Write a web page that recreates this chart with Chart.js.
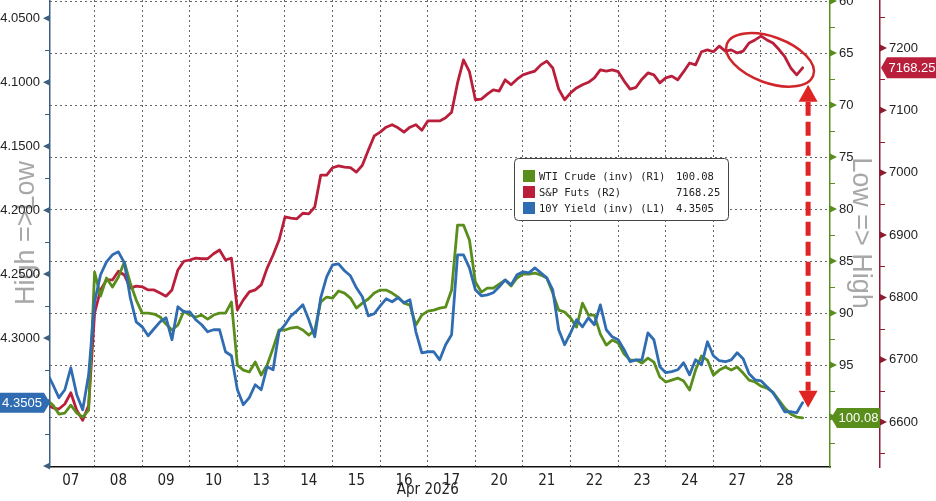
<!DOCTYPE html>
<html>
<head>
<meta charset="utf-8">
<script src="https://cdn.jsdelivr.net/npm/chart.js@4.4.1/dist/chart.umd.min.js"></script>
<style>
  html, body { margin: 0; padding: 0; background: #fff; }
</style>
</head>
<body>
<canvas id="myChart" width="936" height="501"></canvas>
<script>
// trading days on the x axis
var dayLabels = ['07', '08', '09', '10', '13', '14', '15', '16', '17', '20', '21', '22', '23', '24', '27', '28'];
var monthLabel = 'Apr 2026';
// intraday samples per trading day
var samplesPerDay = 8;

// WTI crude (R1, inverted)
var wtiCrude = [
  98.37, 98.85, 99.71, 99.61, 98.85, 99.61, 100.00, 99.33,
  86.06, 88.37, 86.63, 87.50, 86.54, 85.10, 87.12, 88.75,
  90.00, 90.00, 90.10, 90.38, 91.06, 91.63, 91.15, 89.81,
  90.19, 90.38, 90.19, 90.58, 90.19, 90.00, 90.00, 88.94,
  95.00, 95.48, 95.67, 94.71, 95.96, 95.00, 93.37, 91.63,
  91.63, 91.44, 91.35, 91.63, 92.12, 91.63, 88.94, 88.46,
  88.56, 87.88, 88.08, 88.56, 89.52, 89.04, 88.65, 88.08,
  87.79, 87.79, 88.08, 88.46, 89.04, 89.23, 91.15, 90.19,
  89.81, 89.71, 89.52, 89.42, 87.79, 81.54, 81.54, 82.98,
  87.02, 87.98, 87.60, 87.60, 87.21, 86.83, 87.40, 86.63,
  86.25, 86.25, 86.15, 86.35, 86.63, 88.08, 89.71, 89.90,
  90.48, 91.35, 89.04, 90.19, 90.19, 92.02, 93.08, 92.60,
  92.88, 93.94, 94.52, 94.52, 94.81, 94.33, 94.71, 96.15,
  96.63, 96.44, 96.25, 96.54, 97.40, 95.48, 94.13, 94.52,
  95.96, 95.48, 95.19, 95.48, 95.19, 95.77, 96.44, 96.63,
  97.02, 97.21, 97.60, 98.37, 99.13, 99.71, 100.00, 100.08
];

// S&P futures (R2)
var spFuts = [
  6627, 6623, 6621, 6629, 6647, 6619, 6603, 6627,
  6775, 6812, 6828, 6828, 6842, 6836, 6815, 6818,
  6817, 6812, 6812, 6807, 6802, 6812, 6844, 6858,
  6860, 6863, 6862, 6862, 6870, 6876, 6860, 6863,
  6780, 6796, 6809, 6812, 6820, 6847, 6868, 6892,
  6929, 6927, 6926, 6935, 6934, 6945, 6996, 6996,
  7008, 7011, 7009, 7008, 7001, 7012, 7036, 7059,
  7065, 7073, 7077, 7072, 7065, 7073, 7077, 7068,
  7083, 7083, 7083, 7088, 7097, 7144, 7181, 7162,
  7117, 7118, 7126, 7133, 7131, 7149, 7141, 7150,
  7157, 7160, 7163, 7173, 7179, 7168, 7134, 7117,
  7128, 7136, 7141, 7145, 7152, 7165, 7163, 7165,
  7162, 7147, 7134, 7137, 7150, 7160, 7157, 7144,
  7152, 7155, 7149, 7162, 7176, 7173, 7194, 7197,
  7194, 7203, 7195, 7197, 7192, 7195, 7208, 7213,
  7219, 7213, 7208, 7198, 7186, 7168, 7157, 7168.25
];

// 10Y yield (L1, inverted)
var yield10y = [
  4.3271, 4.3365, 4.3466, 4.3404, 4.3232, 4.3443, 4.3560, 4.3287,
  4.2716, 4.2505, 4.2404, 4.2349, 4.2326, 4.2412, 4.2685, 4.2873,
  4.2912, 4.2982, 4.2927, 4.2873, 4.2841, 4.3013, 4.2755, 4.2795,
  4.2795, 4.2857, 4.2896, 4.2951, 4.2935, 4.2935, 4.3107, 4.3138,
  4.3404, 4.3521, 4.3466, 4.3365, 4.3404, 4.3224, 4.3248, 4.2951,
  4.2896, 4.2826, 4.2787, 4.2740, 4.2857, 4.2990, 4.2685, 4.2521,
  4.2427, 4.2420, 4.2474, 4.2513, 4.2607, 4.2677, 4.2826, 4.2810,
  4.2748, 4.2693, 4.2716, 4.2685, 4.2724, 4.2701, 4.2951, 4.3115,
  4.3107, 4.3107, 4.3170, 4.3052, 4.2974, 4.2349, 4.2349, 4.2451,
  4.2623, 4.2670, 4.2662, 4.2646, 4.2599, 4.2545, 4.2584, 4.2505,
  4.2482, 4.2490, 4.2451, 4.2490, 4.2529, 4.2623, 4.2935, 4.3052,
  4.2959, 4.2857, 4.2912, 4.2841, 4.2896, 4.2740, 4.2935, 4.2990,
  4.3013, 4.3091, 4.3185, 4.3170, 4.3170, 4.2959, 4.3013, 4.3224,
  4.3271, 4.3263, 4.3248, 4.3193, 4.3287, 4.3170, 4.3209, 4.3029,
  4.3138, 4.3177, 4.3185, 4.3170, 4.3115, 4.3162, 4.3279, 4.3326,
  4.3334, 4.3380, 4.3427, 4.3498, 4.3576, 4.3576, 4.3584, 4.3505
];

// tick labels of the three value axes
var yieldTicks = [4.05, 4.10, 4.15, 4.20, 4.25, 4.30, 4.35, 4.40];
var crudeTicks = [60, 65, 70, 75, 80, 85, 90, 95, 100];
var spTicks = [6600, 6700, 6800, 6900, 7000, 7100, 7200];

var seriesNames = ['WTI Crude (inv) (R1)', 'S&P Futs (R2)', '10Y Yield (inv) (L1)'];
var lastValues = ['100.08', '7168.25', '4.3505'];

var GREEN = '#5a8e1c';
var RED = '#b91f3b';
var BLUE = '#2f6cb1';
var narrowFont = "'Liberation Sans Narrow', 'DejaVu Sans Condensed', sans-serif";

function toPoints(arr) {
    return arr.map(function (v, i) { return { x: i / samplesPerDay, y: v }; });
}

function setTicks(list) {
    return function (scale) {
        scale.ticks = list.map(function (v) { return { value: v }; });
    };
}

// fixed box sizes so the plot area lands where the original sits
function fixWidth(w) {
    return function (scale) {
        scale.width = w;
        scale.paddingTop = 0;
        scale.paddingBottom = 0;
    };
}

function drawFlag(ctx, tipX, cy, dir, w, h, text, color) {
    // dir = 1 points right (box on left), -1 points left (box on right)
    var baseX = tipX - dir * 6;
    var farX = baseX - dir * w;
    ctx.beginPath();
    ctx.moveTo(tipX, cy);
    ctx.lineTo(baseX, cy - h / 2);
    ctx.lineTo(farX, cy - h / 2);
    ctx.lineTo(farX, cy + h / 2);
    ctx.lineTo(baseX, cy + h / 2);
    ctx.closePath();
    ctx.fillStyle = color;
    ctx.fill();
    ctx.fillStyle = '#fff';
    ctx.font = '13px "Liberation Sans", sans-serif';
    ctx.textAlign = 'center';
    ctx.textBaseline = 'middle';
    ctx.fillText(text, (baseX + farX) / 2, cy + 1);
}

function axisMarks(ctx, scale, list, dir, color) {
    var axisX = dir < 0 ? scale.right : scale.left;
    var step = list[1] - list[0];
    var lo = Math.min(scale.min, scale.max), hi = Math.max(scale.min, scale.max);
    ctx.fillStyle = color;
    ctx.strokeStyle = color;
    ctx.lineWidth = 1;
    list.forEach(function (v) {
        var py = scale.getPixelForValue(v);
        ctx.beginPath();
        ctx.moveTo(axisX, py - 3.5);
        ctx.lineTo(axisX + dir * 7, py);
        ctx.lineTo(axisX, py + 3.5);
        ctx.closePath();
        ctx.fill();
        [v - step / 2, v + step / 2].forEach(function (m) {
            if (m < lo || m > hi) return;
            var my = Math.round(scale.getPixelForValue(m)) + 0.5;
            ctx.beginPath();
            ctx.moveTo(axisX, my);
            ctx.lineTo(axisX + dir * 5, my);
            ctx.stroke();
        });
    });
}

var annotatePlugin = {
    id: 'annotate',
    beforeDraw: function (chart) {
        var ctx = chart.ctx;
        ctx.save();
        ctx.fillStyle = '#a8a8a8';
        ctx.font = '27px "Liberation Sans", sans-serif';
        ctx.textAlign = 'center';
        ctx.textBaseline = 'middle';
        ctx.translate(27, 233);
        ctx.rotate(-Math.PI / 2);
        ctx.fillText('High =>Low', 0, 0);
        ctx.restore();
        ctx.save();
        ctx.fillStyle = '#a8a8a8';
        ctx.font = '27px "Liberation Sans", sans-serif';
        ctx.textAlign = 'center';
        ctx.textBaseline = 'middle';
        ctx.translate(860, 233);
        ctx.rotate(Math.PI / 2);
        ctx.fillText('Low => High', 0, 0);
        ctx.restore();
    },
    afterDraw: function (chart) {
        var ctx = chart.ctx;
        var s = chart.scales;
        ctx.save();

        axisMarks(ctx, s.y, yieldTicks, -1, '#3d5f80');
        axisMarks(ctx, s.y1, crudeTicks, 1, GREEN);
        axisMarks(ctx, s.y2, spTicks, 1, '#8c1d30');

        // month under the day labels
        ctx.fillStyle = '#222';
        ctx.font = '15px ' + narrowFont;
        ctx.textAlign = 'center';
        ctx.textBaseline = 'middle';
        ctx.fillText(monthLabel, s.x.getPixelForValue(8), 490);

        // last value flags
        drawFlag(ctx, s.y.right, s.y.getPixelForValue(yield10y[yield10y.length - 1]), 1, 44, 20, lastValues[2], BLUE);
        drawFlag(ctx, s.y1.left + 1, s.y1.getPixelForValue(wtiCrude[wtiCrude.length - 1]), -1, 43, 20, lastValues[0], GREEN);
        drawFlag(ctx, s.y2.left + 1, s.y2.getPixelForValue(spFuts[spFuts.length - 1]), -1, 50, 21, lastValues[1], RED);

        // legend box
        ctx.beginPath();
        ctx.roundRect(514.5, 158.5, 214, 62, 4);
        ctx.fillStyle = '#fff';
        ctx.fill();
        ctx.strokeStyle = '#444';
        ctx.lineWidth = 1;
        ctx.stroke();
        var colors = [GREEN, RED, BLUE];
        ctx.font = '10.5px "DejaVu Sans Mono", monospace';
        ctx.textAlign = 'left';
        for (var k = 0; k < 3; k++) {
            var cy = 176 + k * 16;
            ctx.fillStyle = colors[k];
            ctx.fillRect(523, cy - 6, 12, 12);
            ctx.fillStyle = '#222';
            ctx.fillText(seriesNames[k], 539, cy + 1);
            ctx.fillText(lastValues[k], 676, cy + 1);
        }

        // red circle around the latest S&P dip
        var ex = s.x.getPixelForValue(15.19);
        var ey = s.y2.getPixelForValue(7181);
        ctx.beginPath();
        ctx.ellipse(ex, ey, 46, 23, 0.35, 0, Math.PI * 2);
        ctx.strokeStyle = '#d0262b';
        ctx.lineWidth = 2.5;
        ctx.stroke();

        // dashed double arrow between S&P and crude/yield
        var ax = s.x.getPixelForValue(15.99);
        var topY = s.y2.getPixelForValue(7141);
        var botY = s.y1.getPixelForValue(99.1);
        ctx.strokeStyle = '#e02424';
        ctx.fillStyle = '#e02424';
        ctx.lineWidth = 5;
        ctx.setLineDash([14, 6]);
        ctx.beginPath();
        ctx.moveTo(ax, topY + 17);
        ctx.lineTo(ax, botY - 17);
        ctx.stroke();
        ctx.setLineDash([]);
        ctx.beginPath();
        ctx.moveTo(ax, topY);
        ctx.lineTo(ax - 9.5, topY + 17);
        ctx.lineTo(ax + 9.5, topY + 17);
        ctx.closePath();
        ctx.fill();
        ctx.beginPath();
        ctx.moveTo(ax, botY);
        ctx.lineTo(ax - 9.5, botY - 17);
        ctx.lineTo(ax + 9.5, botY - 17);
        ctx.closePath();
        ctx.fill();

        ctx.restore();
    }
};

var ctx = document.getElementById('myChart');

var config = {
    type: 'line',
    data: {
        datasets: [{
            label: seriesNames[2],
            data: toPoints(yield10y),
            yAxisID: 'y',
            borderColor: BLUE,
            order: 0
        }, {
            label: seriesNames[0],
            data: toPoints(wtiCrude),
            yAxisID: 'y1',
            borderColor: GREEN,
            order: 1
        }, {
            label: seriesNames[1],
            data: toPoints(spFuts),
            yAxisID: 'y2',
            borderColor: RED,
            order: 2
        }]
    },
    options: {
        responsive: false,
        animation: false,
        events: [],
        layout: { padding: 0 },
        elements: {
            point: { radius: 0 },
            line: { borderWidth: 2.8, tension: 0, borderJoinStyle: 'round', borderCapStyle: 'round' }
        },
        plugins: {
            legend: { display: false },
            tooltip: { enabled: false }
        },
        scales: {
            x: {
                type: 'linear',
                position: 'bottom',
                min: 0.063,
                max: 16.45,
                afterBuildTicks: setTicks(dayLabels.map(function (d, i) { return i + 0.5; })),
                ticks: {
                    autoSkip: false,
                    maxRotation: 0,
                    padding: 5,
                    color: '#222',
                    font: { family: narrowFont, size: 15 },
                    callback: function (v, i) { return dayLabels[i]; }
                },
                grid: { display: false, drawTicks: false },
                border: { display: true, color: '#111', width: 1.5 },
                afterFit: function (scale) {
                    scale.height = 34;
                    scale.paddingLeft = 0;
                    scale.paddingRight = 0;
                }
            },
            xg: {
                type: 'linear',
                position: 'top',
                min: 0.063,
                max: 16.45,
                afterBuildTicks: setTicks([1, 2, 3, 4, 5, 6, 7, 8, 9, 10, 11, 12, 13, 14, 15]),
                ticks: { display: false },
                grid: { display: true, drawTicks: false, color: '#666', lineWidth: 1 },
                border: { display: false, dash: [2, 3] },
                afterFit: function (scale) {
                    scale.height = 0;
                    scale.paddingLeft = 0;
                    scale.paddingRight = 0;
                }
            },
            y: {
                type: 'linear',
                position: 'left',
                reverse: true,
                min: 4.0357,
                max: 4.4008,
                afterBuildTicks: setTicks(yieldTicks),
                ticks: {
                    color: '#222',
                    padding: 10,
                    font: { family: 'Liberation Sans', size: 13 },
                    callback: function (v) { return v > 4.34 ? '' : v.toFixed(4); }
                },
                grid: { drawOnChartArea: false, drawTicks: false },
                border: { color: '#3d5f80', width: 1.5 },
                afterFit: fixWidth(50)
            },
            y1: {
                type: 'linear',
                position: 'right',
                reverse: true,
                min: 59.9,
                max: 104.8,
                afterBuildTicks: setTicks(crudeTicks),
                ticks: {
                    color: '#222',
                    padding: 9,
                    font: { family: 'Liberation Sans', size: 13 },
                    callback: function (v) { return v >= 100 ? '' : String(v); }
                },
                grid: { drawOnChartArea: true, drawTicks: false, color: '#666', lineWidth: 1 },
                border: { color: GREEN, width: 1.5, dash: [2, 3] },
                afterFit: fixWidth(50)
            },
            y2: {
                type: 'linear',
                position: 'right',
                min: 6528,
                max: 7277,
                afterBuildTicks: setTicks(spTicks),
                ticks: {
                    color: '#222',
                    padding: 9,
                    font: { family: 'Liberation Sans', size: 13 },
                    callback: function (v) { return String(v); }
                },
                grid: { drawOnChartArea: false, drawTicks: false },
                border: { color: '#8c1d30', width: 1.5 },
                afterFit: fixWidth(56)
            }
        }
    },
    plugins: [annotatePlugin]
};

var chart = new Chart(ctx, config);
</script>
</body>
</html>
